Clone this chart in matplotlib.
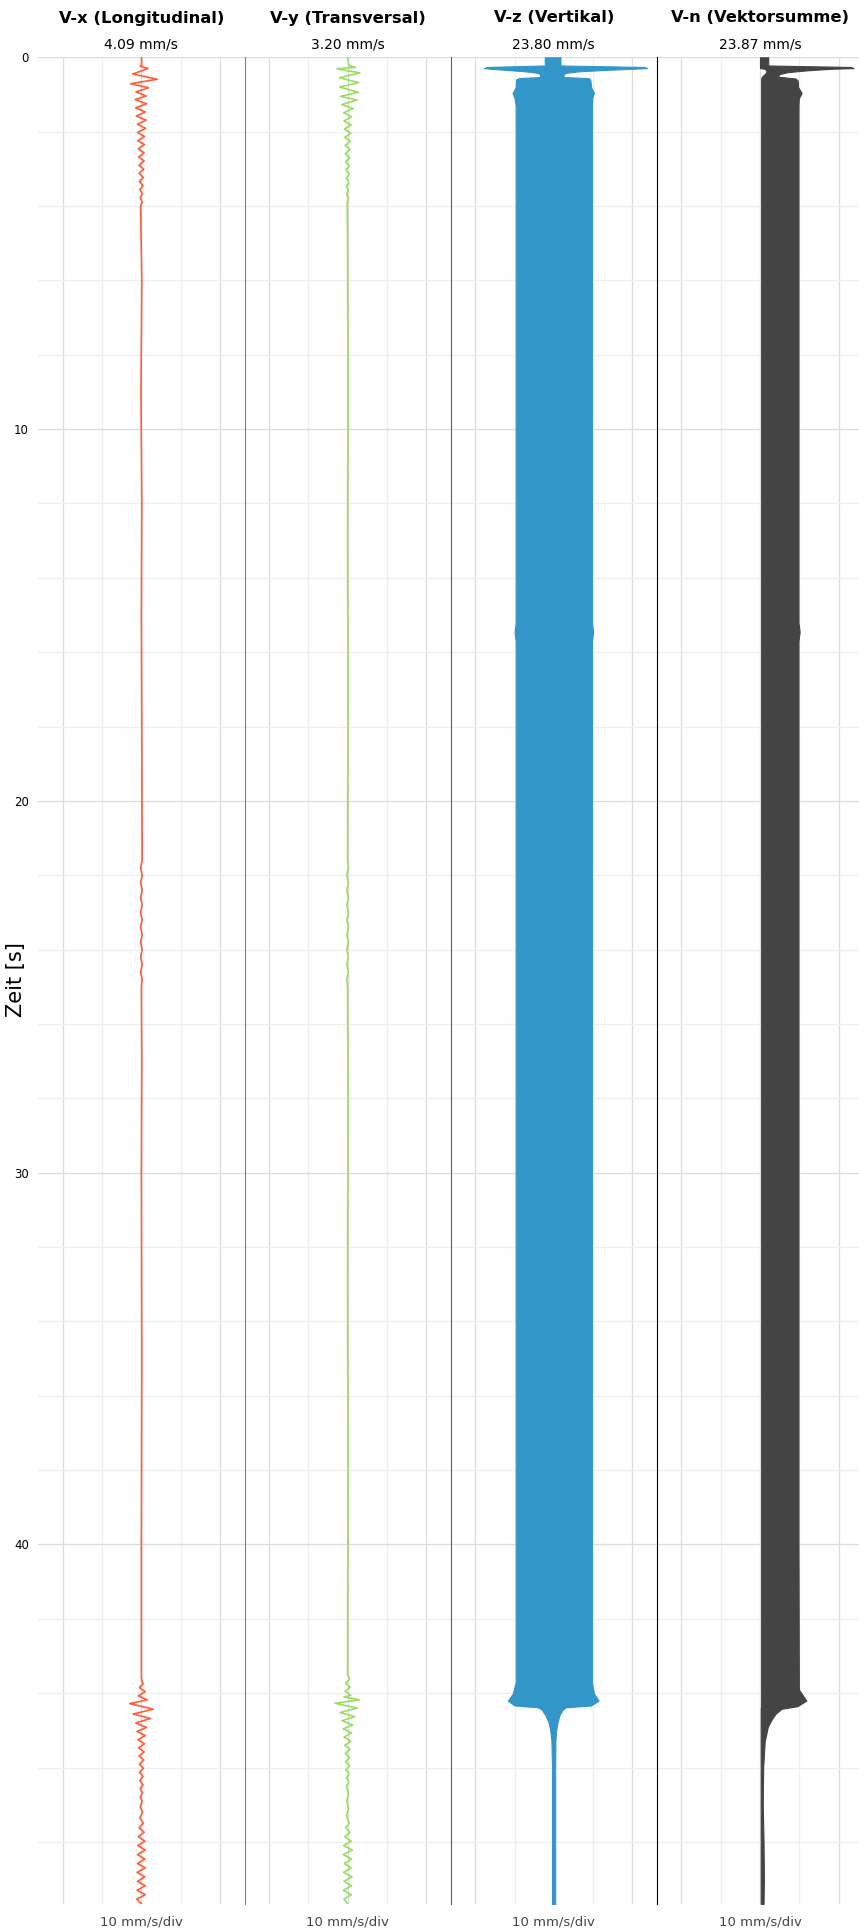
import numpy as np
import matplotlib
matplotlib.use('Agg')
import matplotlib.pyplot as plt

# panel titles and peak values
titles = ['V-x (Longitudinal)', 'V-y (Transversal)', 'V-z (Vertikal)', 'V-n (Vektorsumme)']
peaks = ['4.09 mm/s', '3.20 mm/s', '23.80 mm/s', '23.87 mm/s']
colors = ['#FF5E3A', '#99DD62', '#3396C8', '#444444']
t_end = 49.67

# V-x trace, extrema (s, mm/s)
vx_t = [0.00, 0.20, 0.24, 0.30, 0.45, 0.59, 0.71, 0.82, 0.93, 1.04, 1.14, 1.25, 1.36, 1.47,
        1.58, 1.69, 1.80, 1.91, 2.02, 2.13, 2.24, 2.35, 2.46, 2.57, 2.68, 2.79, 2.90, 3.01,
        3.12, 3.23, 3.34, 3.45, 3.56, 3.67, 3.78, 3.89, 4.00, 6.0, 9.0, 12.0, 15.0, 18.0,
        21.6, 21.8, 22.0, 22.2, 22.4, 22.6, 22.8, 23.0, 23.2, 23.4, 23.6, 23.8, 24.0,
        24.2, 24.4, 24.6, 24.8, 25.0, 27.0, 30.0,
        35.0, 40.0, 43.60, 43.75, 43.85, 43.96, 44.07, 44.18, 44.28, 44.43, 44.56, 44.68,
        44.80, 44.92, 45.03, 45.14, 45.25, 45.36, 45.47, 45.58, 45.69, 45.80, 45.91, 46.02,
        46.13, 46.24, 46.35, 46.46, 46.57, 46.68, 46.79, 46.90, 47.05, 47.20, 47.35, 47.50,
        47.62, 47.74, 47.86, 47.98, 48.10, 48.22, 48.34, 48.46, 48.58, 48.70, 48.82, 48.94,
        49.06, 49.18, 49.30, 49.42, 49.54, 49.67]
vx_v = [0.0, 0.1, -0.3, 1.7, -2.2, 4.05, -2.7, 1.8, -1.4, 1.2, -1.6, 1.3, -1.5, 1.0,
        -1.3, 1.2, -1.0, 1.1, -1.0, 0.8, -0.9, 0.8, -0.8, 0.7, -0.7, 0.7, -0.6, 0.6,
        -0.6, 0.5, -0.5, 0.4, -0.4, 0.3, -0.3, 0.2, -0.2, 0.1, -0.1, 0.1, 0.0, 0.1,
        0.2, -0.2, 0.2, -0.2, 0.2, -0.2, 0.2, -0.2, 0.2, -0.2, 0.2, -0.2, 0.2,
        -0.2, 0.2, -0.2, 0.2, 0.0, 0.1, 0.0,
        0.1, 0.0, 0.0, 0.4, -0.5, 1.0, -0.8, 1.5, -3.0, 3.0, -2.1, 2.3,
        -1.4, 1.3, -1.1, 1.0, -0.9, 0.8, -0.7, 0.7, -0.6, 0.6, -0.5, 0.5,
        -0.5, 0.4, -0.4, 0.4, -0.3, 0.3, -0.3, 0.2, -0.3, 0.3, -0.4, 0.5,
        -0.6, 0.7, -0.8, 0.9, -0.9, 1.0, -1.0, 0.9, -1.0, 1.0, -1.1, 0.9,
        -1.0, 1.0, -1.1, 1.0, -1.2, 0.0]

# V-y trace, extrema (s, mm/s)
vy_t = [0.00, 0.22, 0.27, 0.31, 0.42, 0.55, 0.68, 0.80, 0.94, 1.05, 1.15, 1.27, 1.38, 1.49,
        1.60, 1.71, 1.82, 1.93, 2.04, 2.15, 2.26, 2.37, 2.48, 2.59, 2.70, 2.81, 2.92, 3.03,
        3.14, 3.25, 3.36, 3.47, 3.58, 3.69, 3.80, 3.91, 5.0, 9.0, 13.0, 17.0, 21.6,
        21.8, 22.0, 22.2, 22.4, 22.6, 22.8, 23.0, 23.2, 23.4, 23.6, 23.8, 24.0, 24.2,
        24.4, 24.6, 24.8, 25.0, 28.0, 33.0, 38.0, 43.50,
        43.62, 43.73, 43.84, 43.95, 44.06, 44.10, 44.18, 44.27, 44.40, 44.52, 44.63, 44.74,
        44.85, 44.96, 45.07, 45.18, 45.29, 45.40, 45.51, 45.62, 45.73, 45.84, 45.95, 46.06,
        46.17, 46.28, 46.39, 46.50, 46.70, 46.90, 47.10, 47.30, 47.50, 47.62, 47.74, 47.86,
        47.98, 48.10, 48.22, 48.34, 48.46, 48.58, 48.70, 48.82, 48.94, 49.06, 49.18, 49.30,
        49.42, 49.54, 49.67]
vy_v = [0.0, 0.3, 2.0, -2.7, 3.1, -2.1, 2.8, -2.0, 2.7, -1.8, 2.4, -1.5, 1.4, -1.0,
        1.0, -0.9, 0.9, -0.8, 0.8, -0.7, 0.7, -0.6, 0.6, -0.6, 0.5, -0.5, 0.4, -0.4,
        0.4, -0.3, 0.3, -0.3, 0.2, -0.2, 0.2, -0.1, 0.0, 0.1, 0.0, 0.1, 0.0,
        0.2, -0.2, 0.2, -0.2, 0.2, -0.2, 0.2, -0.2, 0.2, -0.2, 0.2, -0.2, 0.2,
        -0.2, 0.2, -0.2, 0.0, 0.1, 0.0, 0.1, 0.0,
        0.5, -0.5, 0.6, -0.6, 0.8, -0.9, 3.0, -3.2, 2.4, -1.9, 1.8, -1.4,
        1.3, -1.1, 1.0, -0.9, 0.8, -0.7, 0.6, -0.6, 0.5, -0.5, 0.5, -0.4,
        0.4, -0.3, 0.3, -0.3, 0.2, -0.2, 0.2, -0.3, 0.4, -0.5, 0.6, -0.7,
        0.9, -1.0, 1.2, -1.1, 1.0, -0.8, 0.9, -1.0, 1.1, -0.9, 1.0, -1.1,
        1.0, -0.9, 0.0]

# V-z: dense vibration, drawn as its envelope (s, mm/s)
vz_t = [0.00, 0.22, 0.26, 0.29, 0.31, 0.34, 0.38, 0.42, 0.47, 0.53, 0.56, 0.60, 0.80,
        0.96, 1.10, 1.30, 5.0, 10.0, 15.2, 15.45, 15.7, 20.0, 30.0, 35.0, 40.0, 43.7,
        44.0, 44.2, 44.33, 44.38, 44.45, 44.6, 44.8, 45.0, 45.3, 46.0, 48.0, 49.67]
vz_lo = [-2.3, -2.3, -17.0, -17.8, -16.0, -12.0, -7.0, -4.0, -3.5, -3.5, -9.0, -9.6, -9.7,
         -10.5, -10.0, -9.7, -9.7, -9.7, -9.7, -10.0, -9.7, -9.7, -9.7, -9.7, -9.7, -9.7,
         -10.4, -11.7, -10.0, -4.0, -3.0, -2.1, -1.3, -0.9, -0.6, -0.45, -0.45, -0.45]
vz_hi = [1.7, 1.7, 23.0, 23.8, 20.0, 13.0, 6.0, 3.0, 2.5, 2.5, 8.8, 9.3, 9.5,
         10.2, 9.8, 9.7, 9.7, 9.7, 9.7, 10.0, 9.7, 9.7, 9.7, 9.7, 9.7, 9.7,
         10.2, 11.4, 9.5, 3.0, 2.2, 1.4, 0.9, 0.6, 0.4, 0.35, 0.35, 0.35]

# V-n: vector sum, envelope (s, mm/s)
vn_t = [0.00, 0.22, 0.26, 0.29, 0.31, 0.35, 0.40, 0.45, 0.52, 0.57, 0.62, 0.80, 0.96,
        1.10, 1.30, 5.0, 10.0, 15.2, 15.45, 15.7, 20.0, 30.0, 40.0, 43.9, 44.2, 44.35,
        44.42, 44.55, 44.7, 44.9, 45.3, 46.0, 47.0, 48.0, 49.0, 49.67]
vn_lo = [0.0, 0.0, 0.0, 0.0, 1.2, 1.6, 1.6, 1.2, 0.5, 0.3, 0.3, 0.3, 0.3,
         0.3, 0.3, 0.3, 0.3, 0.3, 0.3, 0.3, 0.3, 0.3, 0.3, 0.3, 0.3, 0.3,
         0.2, 0.2, 0.2, 0.2, 0.2, 0.2, 0.2, 0.2, 0.2, 0.2]
vn_hi = [2.1, 2.1, 23.0, 23.87, 18.0, 12.0, 7.0, 5.0, 4.5, 9.0, 9.6, 9.7, 10.6,
         9.9, 9.8, 9.8, 9.8, 9.8, 10.1, 9.8, 9.8, 9.8, 9.8, 9.9, 11.8, 9.5,
         5.5, 4.0, 3.0, 2.0, 1.2, 0.8, 0.7, 0.9, 1.0, 0.9]

xlim = 26.26
spine_colors = [None, '#808080', '#606060', 'black']

fig = plt.figure(figsize=(8.59, 19.30), dpi=100)
W, H = 859.0, 1930.0
left0, pw = 38.3, 206.2
top_px, bot_px = 57.3, 1904.0

axes = []
for i in range(4):
    ax = fig.add_axes([(left0 + i * pw) / W, 1 - bot_px / H, pw / W, (bot_px - top_px) / H])
    ax.set_xlim(-xlim, xlim)
    ax.set_ylim(t_end, 0)
    ax.set_xticks([-20, 0, 20])
    ax.set_xticks([-10, 10], minor=True)
    ax.set_yticks([0, 10, 20, 30, 40])
    ax.set_yticks(np.arange(2, 50, 2), minor=True)
    ax.grid(which='major', color='#dcdcdc', lw=0.9, zorder=0)
    ax.grid(which='minor', color='#efefef', lw=0.9, zorder=0)
    ax.set_axisbelow(True)
    ax.tick_params(which='both', length=0, labelbottom=False)
    if i == 0:
        ax.tick_params(axis='y', labelsize=8.5, pad=6.7)
    else:
        ax.tick_params(axis='y', labelleft=False)
    for s in ['top', 'right', 'bottom', 'left']:
        ax.spines[s].set_visible(False)
    if spine_colors[i]:
        ax.spines['left'].set_visible(True)
        ax.spines['left'].set_color(spine_colors[i])
        ax.spines['left'].set_linewidth(0.8)
        ax.spines['left'].set_zorder(5)
    ax.patch.set_alpha(0)
    axes.append(ax)

axes[0].plot(vx_v, vx_t, color=colors[0], lw=1.2, zorder=3)
axes[1].plot(vy_v, vy_t, color=colors[1], lw=1.2, zorder=3)
axes[2].fill_betweenx(vz_t, vz_lo, vz_hi, color=colors[2], lw=0.8, edgecolor=colors[2], zorder=3)
axes[3].fill_betweenx(vn_t, vn_lo, vn_hi, color=colors[3], lw=0.8, edgecolor=colors[3], zorder=3)

for i in range(4):
    cx = (left0 + (i + 0.5) * pw) / W
    fig.text(cx, 1 - 18 / H, titles[i], ha='center', va='center', fontsize=11.8, fontweight='bold')
    fig.text(cx, 1 - 44 / H, peaks[i], ha='center', va='center', fontsize=10)
    fig.text(cx, 1 - 1922 / H, '10 mm/s/div', ha='center', va='center', fontsize=9.5, color='#444444')

fig.text(16 / W, 1 - 980 / H, 'Zeit [s]', rotation=90, ha='center', va='center', fontsize=15)

fig.savefig('out.png', dpi=100)
